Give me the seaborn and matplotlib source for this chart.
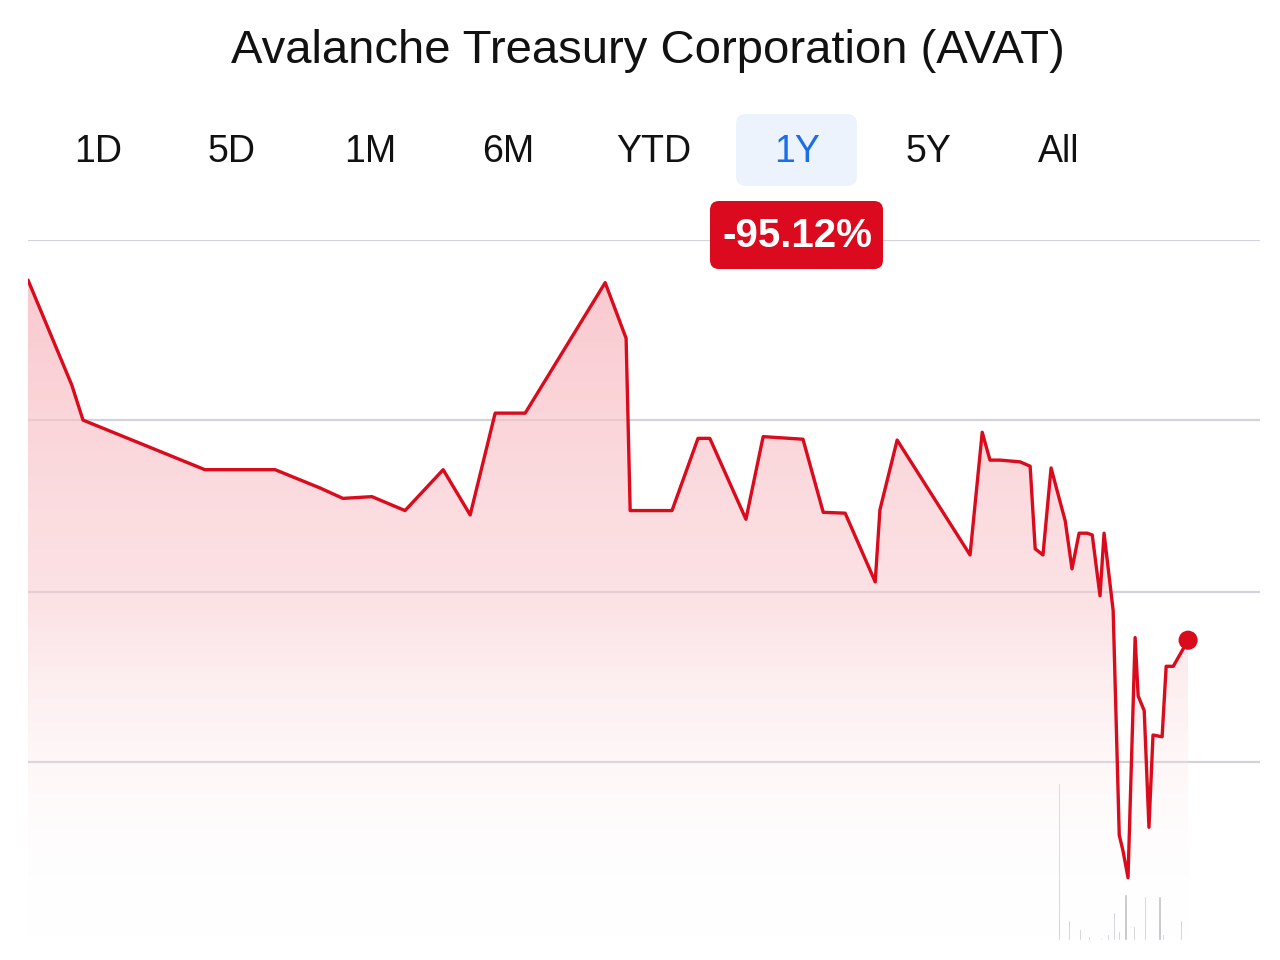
import numpy as np
import pandas as pd
import matplotlib
matplotlib.use("Agg")
import matplotlib.pyplot as plt
from matplotlib.patches import FancyBboxPatch
from matplotlib.colors import LinearSegmentedColormap
import seaborn as sns

# ---------------- data ----------------
title = "Avalanche Treasury Corporation (AVAT)"
tabs = ["1D", "5D", "1M", "6M", "YTD", "1Y", "5Y", "All"]
active_tab = "1Y"
change_label = "-95.12%"

days = [0, 13, 16.3, 52.4, 73.2, 86.5, 93.3, 101.9, 111.7, 123, 131, 138.4, 147.3,
        171, 177.2, 178.4, 190.8, 198.5, 202, 212.7, 217.8, 229.6, 235.6, 242.1,
        251, 252.4, 257.5, 279.1, 282.7, 285, 288, 293.9, 296.9, 298.4, 300.7,
        303.1, 307.3, 309.3, 311.4, 313.8, 315.3, 317.6, 318.8, 321.5, 323.3,
        324.4, 325.9, 328, 328.9, 330.7, 332.1, 333.3, 336, 337.2, 339.3, 343.7]
price = [7.54, 6.33, 5.93, 5.36, 5.36, 5.15, 5.03, 5.05, 4.89, 5.36, 4.84, 6.01, 6.01,
         7.51, 6.87, 4.89, 4.89, 5.72, 5.72, 4.79, 5.74, 5.71, 4.87, 4.86,
         4.07, 4.90, 5.70, 4.38, 5.79, 5.47, 5.47, 5.45, 5.40, 4.45, 4.38,
         5.38, 4.77, 4.22, 4.63, 4.63, 4.61, 3.91, 4.63, 3.74, 1.16,
         0.98, 0.67, 3.43, 2.76, 2.59, 1.25, 2.31, 2.29, 3.10, 3.10, 3.40]

vol_days = [305.5, 308.5, 311.7, 314.4, 317.9, 320.0, 321.8, 323.3, 325.1, 327.7, 331.0, 335.2, 336.3, 341.6]
volume = [157, 20, 11, 4, 2, 6, 28, 9, 46, 14, 44, 44, 6, 20]

grid_levels = [2.0, 3.95, 5.93, 8.0]

# ---------------- style ----------------
sns.set_theme(style="white")
plt.rcParams["font.family"] = ["Liberation Sans", "DejaVu Sans"]

RED = "#d90b1c"
W, H = 1280, 960
fig = plt.figure(figsize=(12.8, 9.6), dpi=100)
fig.patch.set_facecolor("white")

# main chart axes: px x 28..1260, y 240..940
ax = fig.add_axes([28 / W, (H - 940) / H, 1232 / W, 700 / H])
ax.set_xlim(0, 365)
ymin, ymax = -0.046, 8.0
ax.set_ylim(ymin, ymax)
for s in ax.spines.values():
    s.set_visible(False)
ax.set_xticks([])
ax.set_yticks([])
ax.patch.set_alpha(0)

for g in grid_levels:
    ax.axhline(g, color="#d2d2da", lw=1.6, zorder=1)

# gradient fill under line
df = pd.DataFrame({"day": days, "price": price})
poly = ax.fill_between(df["day"], df["price"], ymin, facecolor="none", edgecolor="none")
grad = np.linspace(0, 1, 256).reshape(-1, 1)
cmap = LinearSegmentedColormap.from_list(
    "g", [(1, 1, 1, 0.0), (0.98, 0.80, 0.82, 0.55), (0.97, 0.72, 0.75, 0.75)])
im = ax.imshow(grad, cmap=cmap, aspect="auto", origin="lower",
               extent=[0, 365, ymin, 7.6], zorder=2)
im.set_clip_path(poly.get_paths()[0], transform=ax.transData)

# volume bars on twin axes
vax = ax.twinx()
vax.set_ylim(0, 700)
vax.bar(vol_days, volume, width=0.7, color="#bdbec6", zorder=2)
vax.set_yticks([])
for s in vax.spines.values():
    s.set_visible(False)

# price line
sns.lineplot(data=df, x="day", y="price", ax=ax, color=RED,
             linewidth=2.4, zorder=5)
ax.set_xlabel("")
ax.set_ylabel("")
ax.set_zorder(vax.get_zorder() + 1)
ax.scatter([days[-1]], [price[-1]], s=190, color=RED, zorder=6, edgecolor="none")

# overlay for header (pixel coordinates)
ov = fig.add_axes([0, 0, 1, 1], zorder=10)
ov.set_xlim(0, W)
ov.set_ylim(H, 0)
ov.axis("off")
ov.patch.set_alpha(0)

ov.text(648, 51, title, ha="center", va="center", fontsize=34, color="#111111")

tab_x = [98, 232, 370, 508, 654, 797, 928, 1059]
for t, x in zip(tabs, tab_x):
    if t == active_tab:
        ov.add_patch(FancyBboxPatch((736, 114), 121, 72,
                                    boxstyle="round,pad=0,rounding_size=10",
                                    facecolor="#edf3fc", edgecolor="none"))
        ov.text(x, 152, t, ha="center", va="center", fontsize=27, color="#1a6ee6")
    else:
        ov.text(x, 152, t, ha="center", va="center", fontsize=27, color="#111111")

ov.add_patch(FancyBboxPatch((710, 201), 173, 68,
                            boxstyle="round,pad=0,rounding_size=9",
                            facecolor="#dc0a1e", edgecolor="none"))
ov.text(797, 236, change_label, ha="center", va="center", fontsize=29,
        color="white", fontweight="bold")

fig.savefig("out.png", dpi=100, facecolor="white")
